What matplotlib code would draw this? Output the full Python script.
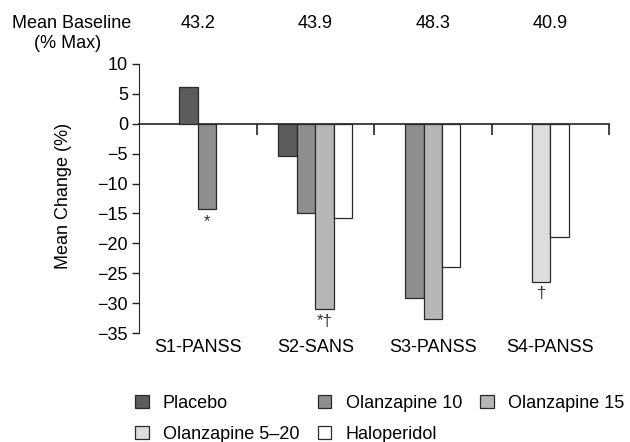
import numpy as np
import matplotlib.pyplot as plt
import matplotlib.transforms as mtransforms
from matplotlib.patches import Patch

plt.rcParams['font.family'] = ['Liberation Sans', 'DejaVu Sans']
plt.rcParams['font.size'] = 13

# ===============================
# Data
# ===============================
studies = ["S1-PANSS", "S2-SANS", "S3-PANSS", "S4-PANSS"]
baselines = ["43.2", "43.9", "48.3", "40.9"]
series = ["Placebo", "Olanzapine 10", "Olanzapine 15", "Olanzapine 5\u201320", "Haloperidol"]
colors = ["#5c5c5c", "#8e8e8e", "#b6b6b6", "#dddddd", "#ffffff"]

# per study: list of (series index, value, mark)
s1 = [(0, 6.2, ""), (1, -14.3, "*")]
s2 = [(0, -5.4, ""), (1, -15.0, ""), (2, -31.0, "*\u2020"), (4, -15.7, "")]
s3 = [(1, -29.2, ""), (2, -32.6, ""), (4, -24.0, "")]
s4 = [(3, -26.4, "\u2020"), (4, -19.0, "")]
groups = [s1, s2, s3, s4]

BAR_W = 0.157

fig = plt.figure(figsize=(6.3, 4.42), dpi=100)
ax = fig.add_axes([139 / 630, 1 - 333 / 442, 470 / 630, 269 / 442])

for gi, grp in enumerate(groups):
    n = len(grp)
    start = gi + 0.5 - n * BAR_W / 2
    for k, (si, val, mark) in enumerate(grp):
        x = start + k * BAR_W
        ax.bar(x, val, width=BAR_W, align="edge", color=colors[si],
               edgecolor="#2a2a2a", linewidth=0.9, zorder=3)
        if mark:
            ax.text(x + BAR_W / 2, val - 0.8, mark, ha="center", va="top",
                    fontsize=12, color="#333333")

ax.set_xlim(0, 4)
ax.set_ylim(-35, 10)
ax.set_yticks(np.arange(-35, 11, 5))
ax.set_xticks([1, 2, 3, 4])
ax.set_xticklabels([])
ax.tick_params(axis="x", direction="out", length=8, width=1.2, color="#222222")
ax.tick_params(axis="y", direction="out", length=5, width=1, color="#222222",
               pad=3)
ax.spines["top"].set_visible(False)
ax.spines["right"].set_visible(False)
ax.spines["bottom"].set_position(("data", 0))
ax.spines["left"].set_color("#222222")
ax.spines["bottom"].set_color("#222222")
ax.spines["bottom"].set_linewidth(1.2)
ax.set_ylabel("Mean Change (%)")
ax.yaxis.set_label_coords(-0.143, 0.51)

# study labels under the plot
for i, name in enumerate(studies):
    ax.text(i + 0.5, -36.0, name, ha="center", va="top")

# baseline header row
trans = mtransforms.blended_transform_factory(ax.transData, fig.transFigure)
for i, b in enumerate(baselines):
    ax.text(i + 0.5, 1 - 23 / 442, b, ha="center", va="center", transform=trans)
fig.text(72 / 630, 1 - 23 / 442, "Mean Baseline", ha="center", va="center")
fig.text(68 / 630, 1 - 43 / 442, "(% Max)", ha="center", va="center")

# legend, row-major order
handles = [Patch(facecolor=c, edgecolor="#2a2a2a", linewidth=0.9) for c in colors]
order = [0, 3, 1, 4, 2]
fig.legend([handles[i] for i in order], [series[i] for i in order],
           ncol=3, frameon=False, loc="upper left",
           bbox_to_anchor=(135 / 630, 1 - 395 / 442),
           handlelength=0.75, handleheight=0.75, handletextpad=0.8,
           columnspacing=1.0, labelspacing=0.75, borderaxespad=0,
           borderpad=0)

fig.savefig("out.png", dpi=100)
